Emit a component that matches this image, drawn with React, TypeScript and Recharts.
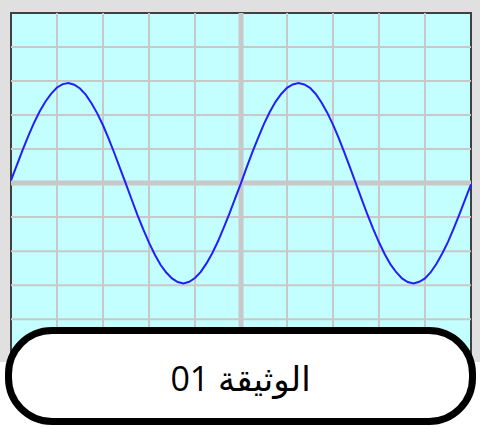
import React from "react";
import { LineChart, Line, XAxis, YAxis, ReferenceLine, ReferenceArea } from "recharts";

// time in divisions, signal in divisions
const times = [
  0, 0.125, 0.25, 0.375, 0.5, 0.625, 0.75, 0.875, 1, 1.125, 1.25, 1.375, 1.5, 1.625, 1.75, 1.875, 2, 2.125, 2.25, 2.375,
  2.5, 2.625, 2.75, 2.875, 3, 3.125, 3.25, 3.375, 3.5, 3.625, 3.75, 3.875, 4, 4.125, 4.25, 4.375, 4.5, 4.625, 4.75, 4.875,
  5, 5.125, 5.25, 5.375, 5.5, 5.625, 5.75, 5.875, 6, 6.125, 6.25, 6.375, 6.5, 6.625, 6.75, 6.875, 7, 7.125, 7.25, 7.375,
  7.5, 7.625, 7.75, 7.875, 8, 8.125, 8.25, 8.375, 8.5, 8.625, 8.75, 8.875, 9, 9.125, 9.25, 9.375, 9.5, 9.625, 9.75, 9.875,
  10,
];
const signal = [
  0.08, 0.52, 0.96, 1.38, 1.77, 2.11, 2.4, 2.63, 2.81, 2.91, 2.94, 2.89, 2.78, 2.6, 2.35, 2.05, 1.7, 1.3, 0.87, 0.42,
  -0.03, -0.49, -0.94, -1.36, -1.75, -2.1, -2.4, -2.63, -2.8, -2.91, -2.95, -2.9, -2.79, -2.61, -2.36, -2.06, -1.71, -1.31, -0.89, -0.44,
  0.0, 0.47, 0.92, 1.34, 1.74, 2.09, 2.39, 2.62, 2.8, 2.9, 2.94, 2.9, 2.8, 2.62, 2.37, 2.07, 1.72, 1.32, 0.89, 0.44,
  -0.02, -0.48, -0.93, -1.35, -1.74, -2.09, -2.39, -2.62, -2.8, -2.91, -2.95, -2.9, -2.8, -2.62, -2.37, -2.07, -1.73, -1.33, -0.91, -0.47,
  -0.04,
];
const gridX = [1, 2, 3, 4, 6, 7, 8, 9];
const gridY = [-5, -4, -3, -2, -1, 1, 2, 3, 4];
const centerX = 5;
const centerY = 0;
const labelText = "الوثيقة 01";

const data = times.map((t, i) => ({ t, v: signal[i] }));

export default function App() {
  return (
    <div style={{ position: "fixed", left: 0, top: 0, width: 480, height: 427, background: "#ffffff", overflow: "hidden" }}>
      <div style={{ position: "absolute", left: 0, top: 0, width: 480, height: 362, background: "#e0e0e0" }} />
      <div style={{ position: "absolute", left: 0, top: 0 }}>
        <LineChart width={480} height={427} data={data} margin={{ top: 13, right: 9, left: 11, bottom: 67 }}>
          <XAxis dataKey="t" type="number" domain={[0, 10]} hide />
          <YAxis type="number" domain={[-5.2, 5]} hide />
          <ReferenceArea x1={0} x2={10} y1={-5.2} y2={5} fill="#c4ffff" fillOpacity={1} stroke="#404040" strokeWidth={2} />
          {gridX.map((x) => (
            <ReferenceLine key={"x" + x} x={x} stroke="#c8c8c8" strokeWidth={2} />
          ))}
          {gridY.map((y) => (
            <ReferenceLine key={"y" + y} y={y} stroke="#c8c8c8" strokeWidth={2} />
          ))}
          <ReferenceLine x={centerX} stroke="#c8c8c8" strokeWidth={5} />
          <ReferenceLine y={centerY} stroke="#c8c8c8" strokeWidth={5} />
          <Line dataKey="v" type="linear" stroke="#2020ff" strokeWidth={2} dot={false} isAnimationActive={false} />
        </LineChart>
      </div>
      <div
        dir="rtl"
        style={{
          position: "absolute",
          left: 5,
          top: 327,
          width: 471,
          height: 98,
          boxSizing: "border-box",
          border: "7px solid #000",
          borderRadius: 47,
          background: "#ffffff",
          display: "flex",
          alignItems: "center",
          justifyContent: "center",
          fontFamily: "'Open Sans', 'DejaVu Sans', sans-serif",
          fontSize: 34,
          color: "#000",
          paddingTop: 4,
        }}
      >
        {labelText}
      </div>
    </div>
  );
}
